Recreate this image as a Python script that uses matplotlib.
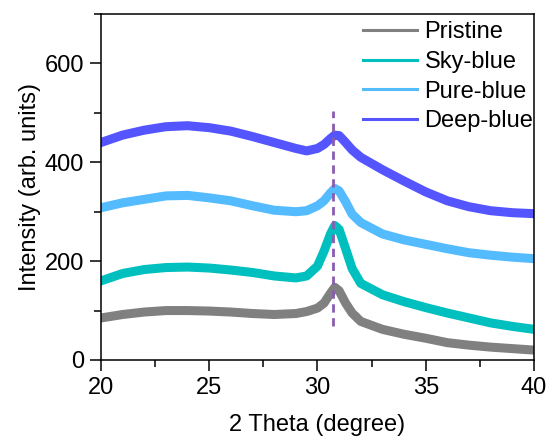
import matplotlib
matplotlib.use("Agg")
import matplotlib.pyplot as plt
from matplotlib.ticker import MultipleLocator
from matplotlib.lines import Line2D

plt.rcParams['font.family'] = ['Liberation Sans', 'DejaVu Sans']

two_theta = [20, 21, 22, 23, 24, 25, 26, 27, 28, 29, 29.5, 30, 30.3, 30.6, 30.8,
             31.0, 31.3, 31.6, 32, 33, 34, 35, 36, 37, 38, 39, 40]
pristine = [85, 92, 97, 100, 100, 99, 97, 94, 92, 94, 98, 105, 115, 135, 147,
            140, 115, 95, 78, 62, 52, 44, 35, 30, 26, 23, 20]
sky_blue = [160, 175, 183, 187, 188, 186, 182, 177, 170, 166, 170, 190, 220, 255, 272,
            264, 225, 185, 155, 132, 118, 106, 95, 85, 75, 68, 62]
pure_blue = [308, 318, 325, 332, 333, 328, 322, 312, 303, 300, 302, 312, 322, 338, 347,
             342, 320, 295, 278, 255, 243, 234, 225, 217, 212, 208, 205]
deep_blue = [440, 455, 465, 472, 474, 470, 463, 452, 440, 428, 423, 428, 436, 448, 455,
             454, 440, 425, 410, 385, 362, 340, 322, 310, 302, 298, 296]

labels = ['Pristine', 'Sky-blue', 'Pure-blue', 'Deep-blue']
colors = ['#808080', '#00BFBF', '#55BBFF', '#5555FF']
series = [pristine, sky_blue, pure_blue, deep_blue]

peak_x = 30.7
peak_span = [68, 503]

fig = plt.figure(figsize=(5.5, 4.43), dpi=100)
ax = fig.add_axes([0.1836, 0.1874, 0.7873, 0.781])

for y, c in zip(series, colors):
    ax.plot(two_theta, y, color=c, lw=6.5, solid_joinstyle='round')

ax.plot([peak_x, peak_x], peak_span, color='#8A5CB0', lw=2.0, ls=(0, (3, 2)))

ax.set_xlim(20, 40)
ax.set_ylim(0, 700)
ax.xaxis.set_major_locator(MultipleLocator(5))
ax.xaxis.set_minor_locator(MultipleLocator(2.5))
ax.yaxis.set_major_locator(MultipleLocator(200))
ax.yaxis.set_minor_locator(MultipleLocator(100))
ax.tick_params(which='major', direction='out', length=8, width=1.1, labelsize=17, pad=4)
ax.tick_params(which='minor', direction='out', length=5, width=1.1)
for s in ax.spines.values():
    s.set_linewidth(1.1)

ax.set_xlabel('2 Theta (degree)', fontsize=17, labelpad=11)
ax.set_ylabel('Intensity (arb. units)', fontsize=17, labelpad=3)

handles = [Line2D([], [], color=c, lw=2.2) for c in colors]
ax.legend(handles, labels, loc='upper right', bbox_to_anchor=(1.015, 1.0),
          frameon=False, fontsize=17,
          handlelength=2.3, handletextpad=0.3, labelspacing=0.33,
          borderaxespad=0.0, borderpad=0.3)

fig.savefig('out.png', dpi=100)
